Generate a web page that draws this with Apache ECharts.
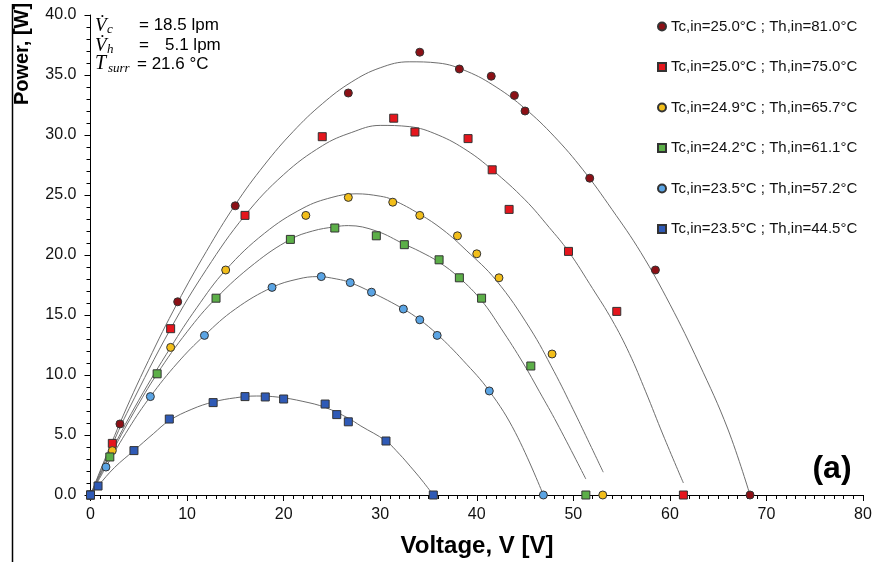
<!DOCTYPE html>
<html>
<head>
<meta charset="utf-8">
<script src="https://cdn.jsdelivr.net/npm/echarts@6/dist/echarts.min.js"></script>
<style>html,body{margin:0;padding:0;background:#fff;}#c{width:877px;height:562px;}</style>
</head>
<body>
<div id="c"></div>
<script>
// ---- series names ----
const seriesNames = [
  'Tc,in=25.0°C ; Th,in=81.0°C',
  'Tc,in=25.0°C ; Th,in=75.0°C',
  'Tc,in=24.9°C ; Th,in=65.7°C',
  'Tc,in=24.2°C ; Th,in=61.1°C',
  'Tc,in=23.5°C ; Th,in=57.2°C',
  'Tc,in=23.5°C ; Th,in=44.5°C'
];
// ---- measured points [V, P] ----
const pts81 = [[0,0],[3.05,5.92],[9.03,16.1],[14.99,24.1],[26.7,33.5],[34.1,36.9],[38.2,35.5],[41.5,34.9],[43.9,33.3],[45.0,32.0],[51.7,26.4],[58.5,18.75],[68.3,0]];
const pts75 = [[0,0],[2.26,4.3],[8.3,13.86],[16.0,23.3],[24.0,29.86],[31.4,31.4],[33.6,30.25],[39.1,29.7],[41.6,27.1],[43.35,23.8],[49.5,20.3],[54.5,15.3],[61.4,0]];
const pts657 = [[0,0],[2.26,3.7],[8.3,12.3],[14.0,18.75],[22.3,23.3],[26.7,24.8],[31.3,24.4],[34.1,23.3],[38.0,21.6],[40.0,20.1],[42.3,18.1],[47.8,11.75],[53.05,0]];
const pts611 = [[0,0],[2.0,3.17],[6.9,10.1],[13.0,16.4],[20.7,21.3],[25.3,22.25],[29.6,21.6],[32.5,20.86],[36.1,19.6],[38.2,18.1],[40.5,16.4],[45.6,10.75],[51.3,0]];
const pts572 = [[0,0],[1.6,2.33],[6.2,8.2],[11.8,13.3],[18.8,17.3],[23.9,18.2],[26.9,17.7],[29.1,16.9],[32.4,15.5],[34.1,14.6],[35.9,13.3],[41.3,8.67],[46.9,0]];
const pts445 = [[0,0],[0.78,0.75],[4.5,3.7],[8.16,6.33],[12.7,7.7],[16.0,8.2],[18.1,8.17],[20.0,8.0],[24.3,7.58],[25.5,6.7],[26.7,6.1],[30.6,4.5],[35.5,0]];
// ---- fitted trend curves [V, P] ----
const fit81 = [[0,0],[3,5.9],[6,11.2],[9,16.0],[12,20.3],[15,24.2],[18,27.5],[21,30.3],[24,32.6],[27,34.4],[30,35.6],[33,36.1],[36,36.0],[39,35.3],[42,34.0],[45,32.2],[48,29.9],[51,27.1],[54,23.8],[57,20.2],[60,15.9],[63,11.0],[66,5.5],[68.3,0]];
const fit75 = [[0,0],[2.26,4.2],[4,7.2],[8.3,13.86],[12,18.8],[16,23.3],[20,26.7],[24,29.1],[27,30.2],[30,30.8],[33,30.7],[36,30.0],[39,28.7],[41.6,27.1],[45,24.6],[47.5,22.3],[49.5,20.3],[52,17.2],[54,14.6],[55.8,11.8],[57.5,8.6],[59.3,5.0],[61.4,1.0]];
const fit657 = [[0,0],[2.26,3.8],[5,7.9],[8.3,12.3],[11,15.6],[14,18.75],[18,21.8],[22,23.9],[25,24.8],[27.5,25.1],[30,24.9],[31.3,24.6],[34.1,23.4],[36.5,22.1],[38.9,20.4],[42,17.9],[45.5,13.9],[48,10.3],[50,7.1],[51.5,4.6],[53.1,1.9]];
const fit611 = [[0,0],[2.0,3.2],[4.5,6.9],[6.9,10.1],[10,13.6],[13,16.4],[17,19.3],[20.7,21.3],[23,22.0],[25.3,22.35],[26.7,22.45],[29.6,22.0],[32.5,20.9],[34.1,20.3],[36.1,19.4],[38.2,18.1],[40.5,16.2],[42.5,13.9],[44.8,11.0],[46.5,8.6],[48.3,6.0],[51.3,1.33]];
const fit572 = [[0,0],[1.6,2.33],[4,5.6],[6.2,8.2],[9,11.0],[11.8,13.3],[15,15.5],[18.8,17.3],[21.5,18.0],[23.5,18.2],[25.5,18.0],[26.9,17.7],[29.1,16.9],[32.4,15.5],[34.1,14.6],[35.9,13.4],[38.6,11.2],[41.3,8.67],[44,5.2],[46.9,0]];
const fit445 = [[0,0],[0.78,0.75],[2.5,2.3],[4.5,3.7],[6.5,5.1],[8.16,6.2],[10.5,7.15],[12.7,7.75],[15,8.1],[17.2,8.25],[19.5,8.15],[22,7.8],[24.3,7.3],[26.7,6.4],[28,5.75],[30.6,4.5],[32,3.4],[33.1,2.4],[34.3,1.25],[35.5,0]];
// ---- axis ticks ----
const xTicks = {min:0, max:80, interval:10};
const yTicks = {min:0, max:40, interval:5};

const colors = ['#8C1016','#E5161D','#F2BE1A','#5CAF48','#5AA4E4','#2F5AB6'];
const symbols = ['circle','rect','circle','rect','circle','rect'];
const pts = [pts81,pts75,pts657,pts611,pts572,pts445];
const fits = [fit81,fit75,fit657,fit611,fit572,fit445];

const series = [];
fits.forEach(function(f){
  series.push({type:'line', data:f, smooth:0.4, showSymbol:false, silent:true,
    lineStyle:{color:'#6e6e6e', width:1}, z:1});
});
pts.forEach(function(p,i){
  series.push({type:'scatter', name:seriesNames[i], data:p, symbol:symbols[i],
    symbolSize: 8,
    itemStyle:{color:colors[i], borderColor:'#333', borderWidth:1, opacity:1}, z:3});
});

const chart = echarts.init(document.getElementById('c'), null, {renderer:'canvas'});
const sans = '"Liberation Sans", Arial, sans-serif';
const serif = '"Liberation Serif", "DejaVu Serif", serif';
chart.setOption({
  animation:false,
  backgroundColor:'#fff',
  grid:{left:90.5, top:15, right:14, bottom:67, containLabel:false},
  xAxis:{type:'value', min:xTicks.min, max:xTicks.max, interval:xTicks.interval,
    axisLine:{lineStyle:{color:'#000', width:1}},
    axisTick:{show:true, inside:false, length:6, lineStyle:{color:'#000'}},
    minorTick:{show:true, splitNumber:10, length:4, lineStyle:{color:'#000'}},
    splitLine:{show:false},
    axisLabel:{color:'#111', fontSize:16, fontFamily:sans, margin:12}},
  yAxis:{type:'value', min:yTicks.min, max:yTicks.max, interval:yTicks.interval,
    axisLine:{show:true, lineStyle:{color:'#000', width:1}},
    axisTick:{show:true, inside:false, length:6, lineStyle:{color:'#000'}},
    minorTick:{show:true, splitNumber:5, length:4, lineStyle:{color:'#000'}},
    splitLine:{show:false},
    axisLabel:{color:'#111', fontSize:16, fontFamily:sans, margin:14,
      formatter:function(v){return v.toFixed(1);}}},
  legend:{orient:'vertical', left:652, top:14, itemWidth:8, itemHeight:8, itemGap:25.5,
    data:seriesNames, textStyle:{fontSize:15, fontFamily:sans, color:'#111'}, selectedMode:false},
  graphic:[
    {type:'line', shape:{x1:12.5,y1:4,x2:12.5,y2:562}, style:{stroke:'#000', lineWidth:1.5}},
    {type:'text', x:22, y:54, rotation:Math.PI/2, style:{text:'Power, [W]', font:'bold 20px '+sans, fill:'#000', align:'center', verticalAlign:'middle'}},
    {type:'text', x:477, y:546, style:{text:'Voltage, V [V]', font:'bold 24px '+sans, fill:'#000', align:'center', verticalAlign:'middle'}},
    {type:'text', x:832, y:469, style:{text:'(a)', font:'bold 32px '+sans, fill:'#000', align:'center', verticalAlign:'middle'}},
    // annotation
    {type:'text', x:95, y:26, style:{text:'V\u0307', font:'italic 19px '+serif, fill:'#000', align:'left', verticalAlign:'middle'}},
    {type:'text', x:107, y:30, style:{text:'c', font:'italic 13px '+serif, fill:'#000', align:'left', verticalAlign:'middle'}},
    {type:'text', x:139, y:25, style:{text:'= 18.5 lpm', font:'17px '+sans, fill:'#000', align:'left', verticalAlign:'middle'}},
    {type:'text', x:95, y:46, style:{text:'V\u0307', font:'italic 19px '+serif, fill:'#000', align:'left', verticalAlign:'middle'}},
    {type:'text', x:107, y:50, style:{text:'h', font:'italic 13px '+serif, fill:'#000', align:'left', verticalAlign:'middle'}},
    {type:'text', x:139, y:45, style:{text:'=', font:'17px '+sans, fill:'#000', align:'left', verticalAlign:'middle'}},
    {type:'text', x:165, y:45, style:{text:'5.1 lpm', font:'17px '+sans, fill:'#000', align:'left', verticalAlign:'middle'}},
    {type:'text', x:95, y:64, style:{text:'T', font:'italic 20px '+serif, fill:'#000', align:'left', verticalAlign:'middle'}},
    {type:'text', x:108, y:69, style:{text:'surr', font:'italic 13px '+serif, fill:'#000', align:'left', verticalAlign:'middle'}},
    {type:'text', x:137, y:64, style:{text:'= 21.6 °C', font:'17px '+sans, fill:'#000', align:'left', verticalAlign:'middle'}}
  ],
  series:series
});
</script>
</body>
</html>
